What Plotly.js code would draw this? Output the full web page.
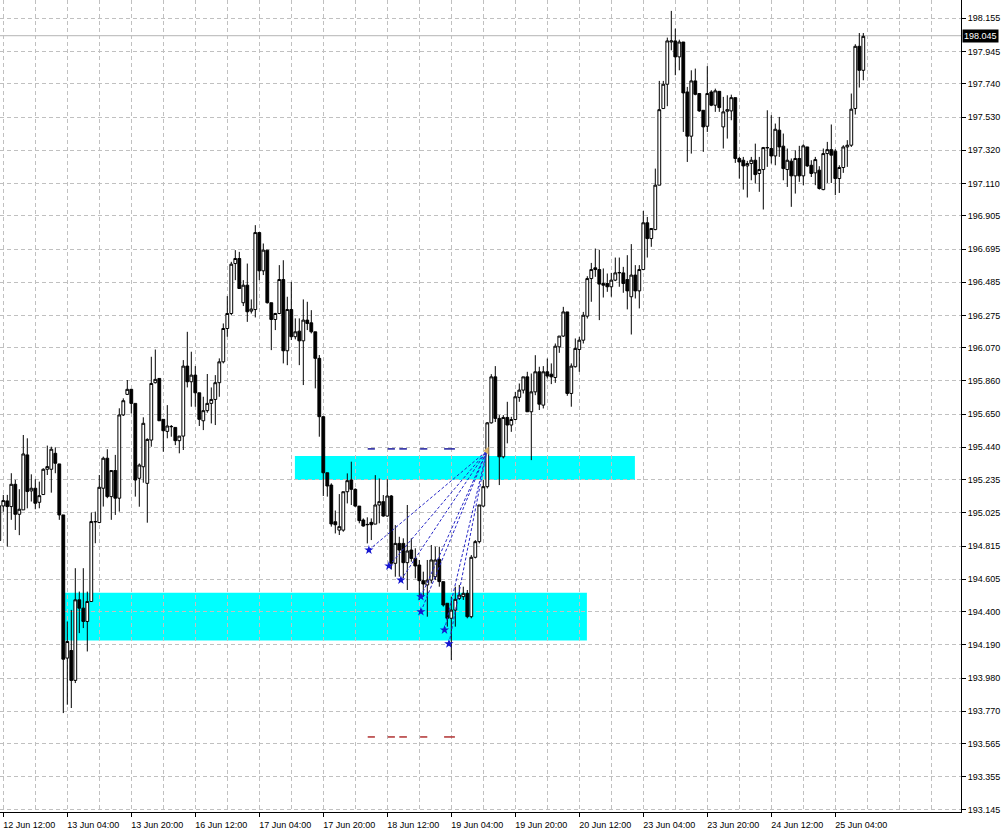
<!DOCTYPE html>
<html>
<head>
<meta charset="utf-8">
<script src="https://cdn.plot.ly/plotly-3.0.1.min.js"></script>
<style>
html,body{margin:0;padding:0;background:#ffffff;}
#chart{width:1006px;height:830px;}
</style>
</head>
<body>
<div id="chart"></div>
<script>
// ---------------- DATA (H1 candles, first one partly cut at the left edge) ----------------
const open = [
194.850,195.069,195.101,195.065,195.206,195.016,195.044,195.392,195.164,195.181,195.092,
195.141,195.301,195.301,195.402,195.335,195.012,194.106,194.154,193.965,194.475,
194.422,194.338,194.464,194.968,194.964,195.181,195.371,195.128,195.293,195.118,
195.645,195.775,195.807,195.718,195.244,195.317,195.212,195.486,195.849,195.876,
195.617,195.541,195.570,195.566,195.482,195.511,195.954,195.855,195.897,195.785,
195.608,195.672,195.718,195.743,195.849,195.981,196.192,196.287,196.603,196.635,
196.355,196.466,196.302,196.312,196.799,196.557,196.688,196.355,196.249,196.287,
196.502,196.051,196.312,196.140,196.175,196.114,196.245,196.228,196.171,196.003,
195.634,195.279,195.201,194.969,194.916,194.916,195.159,195.233,195.174,195.068,
194.980,194.950,194.965,194.954,195.075,195.096,195.005,195.132,194.706,194.832,
194.832,194.710,194.790,194.737,194.695,194.596,194.569,194.600,194.621,194.731,
194.590,194.453,194.358,194.410,194.484,194.495,194.516,194.368,194.744,194.843,
195.068,195.191,195.595,195.886,195.623,195.380,195.629,195.581,195.616,195.756,
195.802,195.886,195.665,195.791,195.918,195.707,195.918,195.903,195.882,196.076,
196.144,196.297,195.781,195.950,196.059,196.118,196.270,196.508,196.576,196.565,
196.477,196.477,196.456,196.498,196.544,196.544,196.502,196.393,196.530,196.430,
196.565,196.861,196.761,196.818,197.099,197.584,197.738,198.005,198.012,197.911,
198.005,197.689,197.409,197.759,197.679,197.573,197.472,197.689,197.605,197.693,
197.468,197.567,197.569,197.653,197.268,197.257,197.221,197.236,197.257,197.173,
197.198,197.335,197.331,197.284,197.447,197.346,197.198,197.251,197.158,197.268,
197.158,197.341,197.225,197.177,197.194,197.071,197.299,197.324,197.314,197.141,
197.211,197.341,197.352,197.584,197.978,197.826];
const high = [
195.100,195.139,195.139,195.276,195.234,195.175,195.518,195.497,195.269,195.238,195.223,
195.307,195.451,195.444,195.440,195.335,195.012,194.338,194.411,194.675,194.527,
194.675,194.527,195.027,195.033,195.265,195.381,195.428,195.293,195.392,195.687,
195.750,195.866,195.807,195.718,195.338,195.630,195.497,196.013,196.059,195.876,
195.617,195.707,195.581,195.566,195.511,195.992,196.171,196.045,195.954,195.785,
195.760,195.904,195.819,195.897,196.003,196.224,196.397,196.614,196.688,196.677,
196.498,196.603,196.376,196.846,196.799,196.730,196.688,196.355,196.291,196.593,
196.624,196.393,196.487,196.256,196.256,196.376,196.361,196.308,196.171,196.024,
195.634,195.279,195.212,195.040,195.144,195.159,195.275,195.349,195.180,195.068,
194.990,194.997,194.990,195.264,195.243,195.138,195.237,195.138,194.948,194.874,
194.864,195.075,194.864,194.801,194.727,194.653,194.727,194.822,194.811,194.811,
194.590,194.453,194.495,194.558,194.569,194.558,194.537,194.758,194.853,195.075,
195.233,195.600,195.903,195.954,195.644,195.644,195.728,195.633,195.791,195.844,
195.886,195.918,195.907,196.023,195.950,195.954,196.002,195.971,196.097,196.144,
196.329,196.297,195.971,196.129,196.139,196.297,196.523,196.607,196.698,196.690,
196.572,196.540,196.544,196.641,196.641,196.582,196.656,196.726,196.593,196.593,
196.936,196.898,196.825,197.204,197.759,197.759,198.033,198.202,198.090,198.020,
198.005,197.721,197.826,197.837,197.679,197.573,197.852,197.700,197.710,197.693,
197.658,197.668,197.672,197.653,197.278,197.278,197.253,197.278,197.362,197.278,
197.341,197.573,197.542,197.489,197.531,197.426,197.331,197.268,197.320,197.348,
197.358,197.341,197.257,197.278,197.219,197.331,197.373,197.483,197.327,197.225,
197.352,197.384,197.679,197.991,198.062,198.062];
const low = [
194.800,195.033,194.812,194.981,194.917,194.884,195.044,195.054,195.097,195.048,195.054,
195.139,195.265,195.153,195.276,194.981,193.758,193.811,193.790,193.948,194.264,
194.296,194.148,194.464,194.833,194.960,195.065,195.118,194.981,195.012,195.033,
195.638,195.771,195.655,195.128,195.064,195.216,194.963,195.444,195.844,195.608,
195.412,195.497,195.507,195.454,195.402,195.423,195.819,195.697,195.697,195.575,
195.549,195.659,195.591,195.581,195.760,195.971,196.140,196.277,196.498,196.445,
196.334,196.234,196.287,196.262,196.498,196.530,196.350,196.055,196.182,196.283,
195.971,195.960,196.119,196.123,195.960,195.834,196.182,196.161,195.813,195.507,
195.132,195.128,194.938,194.895,194.885,194.906,195.085,195.075,195.064,194.959,
194.938,194.832,194.853,194.954,194.959,195.001,195.001,194.668,194.621,194.621,
194.611,194.537,194.716,194.611,194.474,194.495,194.368,194.579,194.600,194.558,
194.432,194.305,194.094,194.305,194.474,194.474,194.358,194.358,194.737,194.832,
195.064,195.180,195.590,195.600,195.201,195.370,195.465,195.538,195.612,195.728,
195.781,195.665,195.359,195.770,195.676,195.686,195.876,195.840,195.848,196.038,
196.139,195.766,195.697,195.945,195.918,196.097,196.255,196.361,196.519,196.245,
196.388,196.424,196.393,196.492,196.456,196.418,196.313,196.154,196.382,196.319,
196.561,196.641,196.709,196.814,197.099,197.584,197.599,197.953,197.795,197.826,
197.436,197.246,197.299,197.668,197.563,197.310,197.436,197.599,197.563,197.563,
197.331,197.394,197.510,197.240,197.141,197.071,197.021,197.130,197.109,197.057,
196.945,197.215,197.236,197.225,197.278,197.130,197.088,196.962,197.046,197.120,
197.099,197.215,197.151,197.099,197.071,197.067,197.113,197.113,197.036,197.050,
197.177,197.215,197.341,197.546,197.717,197.763];
const close = [
195.070,195.103,195.065,195.206,195.016,195.048,195.398,195.160,195.181,195.086,195.134,
195.301,195.318,195.428,195.339,195.012,194.099,194.211,193.965,194.475,194.422,
194.338,194.464,194.970,194.970,195.187,195.371,195.128,195.293,195.118,195.645,
195.735,195.807,195.718,195.233,195.328,195.592,195.490,195.844,195.870,195.608,
195.545,195.575,195.572,195.482,195.511,195.954,195.855,195.897,195.785,195.617,
195.672,195.718,195.743,195.849,195.981,196.192,196.287,196.599,196.635,196.445,
196.466,196.298,196.315,196.799,196.557,196.688,196.355,196.249,196.287,196.502,
196.051,196.312,196.140,196.171,196.114,196.245,196.224,196.171,196.003,195.634,
195.279,195.195,194.955,194.950,194.938,195.159,195.229,195.174,195.068,194.976,
194.942,194.952,194.950,195.075,195.096,195.005,195.132,194.706,194.832,194.790,
194.710,194.784,194.737,194.689,194.596,194.575,194.600,194.727,194.727,194.590,
194.442,194.358,194.410,194.478,194.505,194.516,194.368,194.744,194.843,195.075,
195.191,195.595,195.886,195.623,195.380,195.629,195.581,195.616,195.760,195.802,
195.886,195.665,195.791,195.918,195.713,195.918,195.891,195.886,196.080,196.144,
196.297,195.781,195.954,196.066,196.118,196.276,196.508,196.565,196.565,196.473,
196.466,196.456,196.498,196.544,196.546,196.477,196.430,196.530,196.430,196.565,
196.861,196.761,196.825,197.099,197.577,197.738,198.012,198.012,197.911,198.005,
197.683,197.409,197.759,197.674,197.569,197.468,197.679,197.605,197.696,197.590,
197.563,197.577,197.653,197.268,197.246,197.221,197.236,197.257,197.166,197.198,
197.337,197.337,197.284,197.453,197.341,197.204,197.257,197.158,197.268,197.158,
197.348,197.221,197.173,197.261,197.078,197.299,197.324,197.289,197.141,197.211,
197.341,197.352,197.580,197.978,197.826,198.041];

// time axis labels (one every 16 bars)
const tickIdx = [0,16,32,48,64,80,96,112,128,144,160,176,192,208];
const timeLabels = ['12 Jun 12:00','13 Jun 04:00','13 Jun 20:00','16 Jun 12:00','17 Jun 04:00',
  '17 Jun 20:00','18 Jun 12:00','19 Jun 04:00','19 Jun 20:00','20 Jun 12:00','23 Jun 04:00',
  '23 Jun 20:00','24 Jun 12:00','25 Jun 04:00'];

// price scale labels
const priceTicks = [198.155,197.945,197.740,197.530,197.320,197.110,196.905,196.695,196.485,
  196.275,196.070,195.860,195.650,195.440,195.235,195.025,194.815,194.605,194.400,194.190,
  193.980,193.770,193.565,193.355,193.145];

const currentPrice = 198.045;

// supply / demand zones
const zoneStart  = [72.9, 15.4];
const zoneEnd    = [157.9, 145.9];
const zoneTop    = [195.385, 194.520];
const zoneBottom = [195.233, 194.217];

// signal arrows and the fan towards the target point
const signalIdx   = [91.4, 96.4, 99.4, 104.4, 104.4, 110.3, 111.4];
const signalPrice = [194.790, 194.689, 194.600, 194.495, 194.400, 194.284, 194.196];
const targetIdx = 120.9;
const targetPrice = 195.418;

// short level dashes
const dashStart = [91.1, 96.1, 99.0, 104.2, 110.2];
const dashEnd   = [92.9, 97.9, 100.9, 106.0, 112.9];
const upperLevel = 195.430;
const lowerLevel = 193.607;

// ---------------- BUILD ----------------
const xs = open.map((_, i) => i - 1);

const gridCol = '#c0c0c0';
const traces = [];

traces.push({
  type: 'candlestick',
  x: xs, open: open, high: high, low: low, close: close,
  increasing: {line: {color: '#000000', width: 1}, fillcolor: '#ffffff'},
  decreasing: {line: {color: '#000000', width: 1}, fillcolor: '#000000'},
  whiskerwidth: 0,
  hoverinfo: 'skip',
  showlegend: false
});

// fan lines
const fx = [], fy = [];
signalIdx.forEach((s, i) => { fx.push(s, targetIdx, null); fy.push(signalPrice[i], targetPrice, null); });
traces.push({
  type: 'scatter', mode: 'lines', x: fx, y: fy,
  line: {color: '#2626c8', width: 1, dash: '3px,2px'},
  hoverinfo: 'skip', showlegend: false
});

// level dashes
const ux = [], uy = [], lx = [], ly = [];
dashStart.forEach((s, i) => {
  ux.push(s, dashEnd[i], null); uy.push(upperLevel, upperLevel, null);
  lx.push(s, dashEnd[i], null); ly.push(lowerLevel, lowerLevel, null);
});
traces.push({type: 'scatter', mode: 'lines', x: ux, y: uy,
  line: {color: '#1c1c9c', width: 1.5}, hoverinfo: 'skip', showlegend: false});
traces.push({type: 'scatter', mode: 'lines', x: lx, y: ly,
  line: {color: '#b03030', width: 1.5}, hoverinfo: 'skip', showlegend: false});

// signal arrows
traces.push({
  type: 'scatter', mode: 'markers', x: signalIdx, y: signalPrice,
  marker: {symbol: 'star', size: 7, color: '#1515d0', line: {width: 0}},
  hoverinfo: 'skip', showlegend: false
});
// target marker
traces.push({
  type: 'scatter', mode: 'markers', x: [targetIdx], y: [targetPrice],
  marker: {symbol: 'triangle-left', size: 7, color: '#dcb468', line: {width: 0}},
  hoverinfo: 'skip', showlegend: false
});

const shapes = zoneStart.map((s, i) => ({
  type: 'rect', xref: 'x', yref: 'y', x0: s, x1: zoneEnd[i], y0: zoneBottom[i], y1: zoneTop[i],
  fillcolor: '#00ffff', line: {width: 0}, layer: 'below'
}));
shapes.push({type: 'line', xref: 'paper', yref: 'y', x0: 0, x1: 1, y0: currentPrice, y1: currentPrice,
  line: {color: '#b4b4b4', width: 1}, layer: 'below'});

const tickFont = {family: 'Liberation Sans, Arial, sans-serif', size: 9, color: '#000000'};

const layout = {
  width: 1006, height: 830,
  margin: {l: 0, r: 45, t: 0, b: 18, pad: 0},
  paper_bgcolor: '#ffffff', plot_bgcolor: '#ffffff',
  showlegend: false,
  boxgap: 0.3, boxgroupgap: 0,
  xaxis: {
    type: 'linear',
    range: [-0.825, 239.425],
    tickmode: 'array', tickvals: tickIdx, ticktext: timeLabels,
    ticks: 'outside', ticklen: 4, tickcolor: '#000000', tickwidth: 1,
    ticklabelshift: 26,
    tickfont: tickFont,
    showline: true, linecolor: '#000000', linewidth: 1,
    showgrid: true, gridcolor: gridCol, griddash: '4px,3px', gridwidth: 1,
    minor: {tickmode: 'linear', tick0: 0, dtick: 8, showgrid: true, gridcolor: gridCol,
            griddash: '4px,3px', gridwidth: 1, ticks: ''},
    zeroline: false, fixedrange: true,
    rangeslider: {visible: false}
  },
  yaxis: {
    side: 'right',
    range: [193.132, 198.271],
    tickmode: 'array', tickvals: priceTicks, ticktext: priceTicks.map(v => v.toFixed(3)),
    ticks: 'outside', ticklen: 4, tickcolor: '#000000', tickwidth: 1,
    tickfont: tickFont,
    showline: true, linecolor: '#000000', linewidth: 1,
    showgrid: true, gridcolor: gridCol, griddash: '4px,3px', gridwidth: 1,
    zeroline: false, fixedrange: true
  },
  shapes: shapes,
  annotations: [{
    xref: 'paper', yref: 'y', x: 1, y: currentPrice, xanchor: 'left', yanchor: 'middle',
    xshift: 1, text: currentPrice.toFixed(3), showarrow: false,
    bgcolor: '#000000', borderpad: 1,
    font: {family: 'Liberation Sans, Arial, sans-serif', size: 9, color: '#ffffff'}
  }]
};

Plotly.newPlot('chart', traces, layout, {staticPlot: true, displayModeBar: false});
</script>
</body>
</html>
